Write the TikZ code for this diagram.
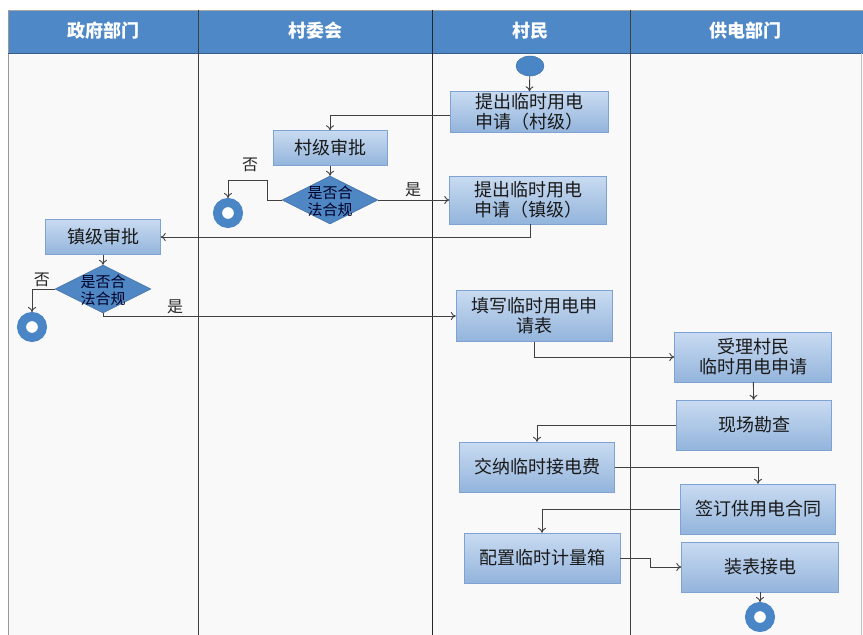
\documentclass[tikz,border=0pt]{standalone}
\usepackage{fontspec}
\newfontfamily\cjk{Noto Sans CJK SC}
\usetikzlibrary{shapes.geometric,arrows.meta}
\definecolor{hdr}{HTML}{4F88C6}
\definecolor{boxtop}{HTML}{C9DBF1}
\definecolor{boxbot}{HTML}{93B4DC}
\definecolor{boxline}{HTML}{7EA3D2}
\definecolor{dia}{HTML}{4F86C4}
\definecolor{ring}{HTML}{4A86C6}
\definecolor{lane}{HTML}{F9F9F9}
\definecolor{conn}{HTML}{404040}
\tikzset{
  stepbox/.style={rectangle, draw=boxline, top color=boxtop, bottom color=boxbot,
    inner sep=0pt, align=center, text=black!90, font=\cjk\fontsize{18}{20}\selectfont},
  diabox/.style={diamond, draw=dia!80!black, fill=dia, inner sep=0pt,
    minimum width=96pt, minimum height=48pt},
  diatext/.style={align=center, text=black!85!blue, font=\cjk\fontsize{15}{17}\selectfont},
  endring/.style={circle, draw=ring, line width=9pt, fill=white, minimum size=21pt, inner sep=0pt},
  startnode/.style={ellipse, fill=ring, draw=ring!80!black, minimum width=28pt, minimum height=20pt, inner sep=0pt},
  hdrtext/.style={text=white, font=\cjk\bfseries\fontsize{18}{20}\selectfont},
  lbl/.style={text=black!85, font=\cjk\fontsize{16}{18}\selectfont},
  conn/.style={draw=conn, line width=0.9pt, -{To[length=5pt,width=8pt]}},
}
\begin{document}
\begin{tikzpicture}[x=1pt,y=-1pt]
\useasboundingbox (0,0) rectangle (863,635);
\fill[white] (0,0) rectangle (863,635);
\fill[lane] (8,53) rectangle (863,635);
\fill[hdr] (8,10) rectangle (863,53);
\draw[gray!70, line width=0.8pt] (8,10) -- (863,10);
\draw[gray!80, line width=0.8pt] (8,10) -- (8,635);
\draw[hdr!70!black, line width=0.8pt] (8,53) -- (863,53);
\draw[black!75, line width=0.8pt] (198,10) -- (198,635);
\draw[black!85, line width=0.9pt] (432,10) -- (432,635);
\draw[black!75, line width=0.8pt] (630,10) -- (630,635);
\draw[gray!50, line width=0.6pt] (861,53) -- (861,635);

\node[hdrtext] (h1) at (103,31) {政府部门};
\node[hdrtext] (h2) at (315,31) {村委会};
\node[hdrtext] (h3) at (530,31) {村民};
\node[hdrtext] (h4) at (745,31) {供电部门};

\node[startnode] (s) at (530,66) {};
\node[stepbox, minimum width=158pt, minimum height=41pt] (b1) at (529,112) {提出临时用电\\申请（村级）};
\node[stepbox, minimum width=114pt, minimum height=35pt] (c1) at (330,148) {村级审批};
\node[diabox] (d1) at (330,200) {};
\node[diatext] (d1t) at (330,201) {是否合\\法合规};
\node[endring] (e1) at (228,213) {};
\node[stepbox, minimum width=157pt, minimum height=48pt] (b2) at (528,200) {提出临时用电\\申请（镇级）};
\node[stepbox, minimum width=115pt, minimum height=35pt] (g1) at (103,237) {镇级审批};
\node[diabox] (d2) at (103,289) {};
\node[diatext] (d2t) at (103,290) {是否合\\法合规};
\node[endring] (e2) at (32,327) {};
\node[stepbox, minimum width=156pt, minimum height=51pt] (b3) at (534,316) {填写临时用电申\\请表};
\node[stepbox, minimum width=157pt, minimum height=50pt] (b4) at (753,357) {受理村民\\临时用电申请};
\node[stepbox, minimum width=155pt, minimum height=50pt] (b5) at (754,425) {现场勘查};
\node[stepbox, minimum width=155pt, minimum height=50pt] (b6) at (537,467) {交纳临时接电费};
\node[stepbox, minimum width=155pt, minimum height=50pt] (b7) at (758,509) {签订供用电合同};
\node[stepbox, minimum width=156pt, minimum height=50pt] (b8) at (542,558) {配置临时计量箱};
\node[stepbox, minimum width=157pt, minimum height=50pt] (b9) at (760,567) {装表接电};
\node[endring] (e3) at (760,617) {};

\path[conn] (s) -- (b1);
\path[conn] ([yshift=-3pt]b1.west) -| (c1.north);
\path[conn] (c1) -- (d1);
\path[conn] (d1.west) -- ++(-14,0) -- ++(0,-20) -| (e1.north);
\node[lbl] (n1) at (250,165) {否};
\path[conn] (d1.east) -- (b2.west);
\node[lbl] (y1) at (413,190) {是};
\path[conn] ([xshift=2pt]b2.south) |- (g1.east);
\path[conn] (g1) -- (d2);
\path[conn] (d2.west) -| (e2.north);
\node[lbl] (n2) at (42,280) {否};
\path[conn] (d2.south) |- (b3.west);
\node[lbl] (y2) at (175,307) {是};
\path[conn] (b3.south) |- (b4.west);
\path[conn] (b4) -- (b5);
\path[conn] (b5.west) -| (b6.north);
\path[conn] (b6.east) -| (b7.north);
\path[conn] (b7.west) -| (b8.north);
\path[conn] (b8.east) -- ++(30,0) |- (b9.west);
\path[conn] (b9) -- (e3);
\end{tikzpicture}
\end{document}
